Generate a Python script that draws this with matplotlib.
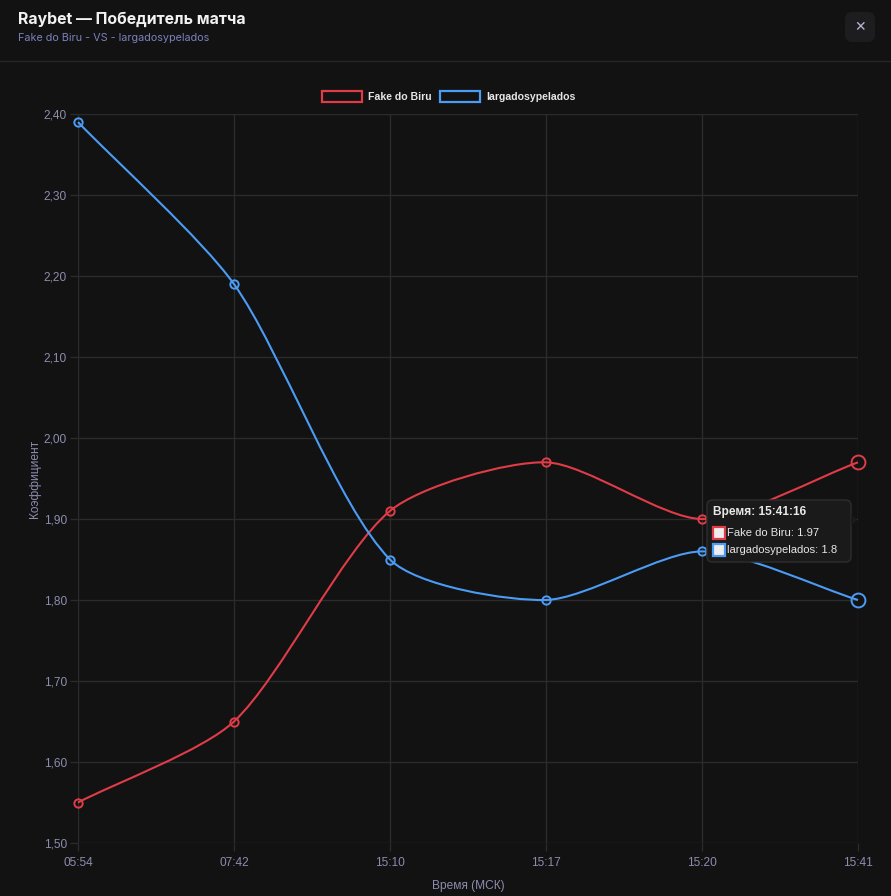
"""Raybet match-winner odds chart, dark modal style."""

import matplotlib.pyplot as plt
import numpy as np
from matplotlib.patches import FancyBboxPatch, PathPatch, Rectangle, Polygon
from matplotlib.path import Path
from matplotlib.lines import Line2D

TIMES = ["05:54", "07:42", "15:10", "15:17", "15:20", "15:41"]
FAKE = [1.55, 1.65, 1.91, 1.97, 1.90, 1.97]
LARGADOS = [2.39, 2.19, 1.85, 1.80, 1.86, 1.80]
Y_TICKS = [1.50, 1.60, 1.70, 1.80, 1.90, 2.00, 2.10, 2.20, 2.30, 2.40]

BG = "#121212"
GRID = "#2b2b2b"
TICK = "#8d8caf"
RED = "#e03c48"
BLUE = "#4a9cf5"

W, H = 891, 896
fig = plt.figure(figsize=(W / 100, H / 100), dpi=100, facecolor=BG)

# header
fig.text(18 / W, 1 - 19 / H, "Raybet — Победитель матча", family="Inter",
         fontsize=11.4, weight="bold", color="#f2f2f2", va="center")
fig.text(18 / W, 1 - 38 / H, "Fake do Biru - VS - largadosypelados", family="Inter",
         fontsize=7.8, color="#7b80bd", va="center")
fig.add_artist(Line2D([0, 1], [1 - 61.5 / H] * 2, color="#262626", lw=1))
fig.add_artist(FancyBboxPatch((845 / W, 1 - 42 / H), 30 / W, 30 / H,
                              boxstyle="round,pad=0,rounding_size=0.008",
                              fc="#1d1d1f", ec="none"))
fig.text(860 / W, 1 - 27 / H, "✕", fontsize=10, color="#b9b6d6",
         ha="center", va="center", family="DejaVu Sans")

ax = fig.add_axes([78 / W, 1 - 843 / H, 780 / W, 729 / H])
ax.set_facecolor(BG)
ax.set_xlim(0, len(TIMES) - 1)
ax.set_ylim(1.50, 2.40)
for s in ax.spines.values():
    s.set_visible(False)
ax.set_xticks(range(len(TIMES)))
ax.set_xticklabels(TIMES)
ax.set_yticks(Y_TICKS)
ax.set_yticklabels([f"{v:.2f}".replace(".", ",") for v in Y_TICKS])
ax.grid(True, color=GRID, lw=1)
ax.tick_params(colors=GRID, length=5.8, width=1, labelsize=8.6, labelcolor=TICK, pad=2.2)
ax.tick_params(axis="x", pad=4)
for lbl in ax.get_xticklabels() + ax.get_yticklabels():
    lbl.set_family("Liberation Sans")
ax.set_xlabel("Время (МСК)", family="Liberation Sans", fontsize=8.6, color=TICK, labelpad=8)
ax.set_ylabel("Коэффициент", family="Liberation Sans", fontsize=8.6, color=TICK, labelpad=2)

# pixel scale so spline control points are computed like Chart.js
sx, sy = 780 / (len(TIMES) - 1), 729 / 0.9


def spline_path(xs, ys, t=0.25):
    px = np.array(xs, float) * sx
    py = np.array(ys, float) * sy
    n = len(px)
    cin, cout = [], []
    for i in range(n):
        p0 = i - 1 if i > 0 else i
        p2 = i + 1 if i < n - 1 else i
        d01 = np.hypot(px[i] - px[p0], py[i] - py[p0])
        d12 = np.hypot(px[p2] - px[i], py[p2] - py[i])
        tot = d01 + d12
        s01 = d01 / tot if tot else 0
        s12 = d12 / tot if tot else 0
        dx, dy = px[p2] - px[p0], py[p2] - py[p0]
        cin.append((px[i] - t * s01 * dx, py[i] - t * s01 * dy))
        cout.append((px[i] + t * s12 * dx, py[i] + t * s12 * dy))
    verts = [(px[0] / sx, py[0] / sy)]
    codes = [Path.MOVETO]
    for i in range(n - 1):
        c1 = cout[i]
        c2 = cin[i + 1]
        verts += [(c1[0] / sx, c1[1] / sy), (c2[0] / sx, c2[1] / sy),
                  (px[i + 1] / sx, py[i + 1] / sy)]
        codes += [Path.CURVE4] * 3
    return Path(verts, codes)


xs = np.arange(len(TIMES))
for vals, col in [(FAKE, RED), (LARGADOS, BLUE)]:
    ax.add_patch(PathPatch(spline_path(xs, vals), fc="none", ec=col, lw=1.5,
                           clip_on=False, zorder=3))
    ax.plot(xs[:-1], vals[:-1], ls="none", marker="o", ms=6, mfc="none",
            mec=col, mew=1.4, clip_on=False, zorder=4)
    ax.plot(xs[-1:], vals[-1:], ls="none", marker="o", ms=10, mfc="none",
            mec=col, mew=1.4, clip_on=False, zorder=4)

# legend
for x0, col, name in [(322, RED, "Fake do Biru"), (440, BLUE, "largadosypelados")]:
    fig.add_artist(Rectangle((x0 / W, 1 - 102 / H), 40 / W, 11 / H,
                             fc="none", ec=col, lw=1.6))
    fig.text((x0 + 46) / W, 1 - 97 / H, name, family="Liberation Sans",
             fontsize=7.6, weight="bold", color="#e6e6e6", va="center")

# tooltip
tx0, ty0, tw, th = 707, 500, 144, 62
fig.add_artist(FancyBboxPatch((tx0 / W, 1 - (ty0 + th) / H), tw / W, th / H,
                              boxstyle="round,pad=0,rounding_size=0.006",
                              fc="#1a1a1b", ec="#2e2e30", lw=1, zorder=10))
fig.add_artist(Polygon([((tx0 + tw) / W, 1 - 514 / H), ((tx0 + tw + 6) / W, 1 - 520 / H),
                        ((tx0 + tw) / W, 1 - 526 / H)], closed=True,
                       fc="#1a1a1b", ec="none", zorder=10))
fig.text((tx0 + 6) / W, 1 - (ty0 + 12) / H, "Время: 15:41:16", family="Liberation Sans",
         fontsize=8.6, weight="bold", color="#e8e8e8", va="center", zorder=11)
for k, (col, txt) in enumerate([(RED, "Fake do Biru: 1.97"), (BLUE, "largadosypelados: 1.8")]):
    yy = ty0 + 33 + k * 17
    fig.add_artist(Rectangle(((tx0 + 6) / W, 1 - (yy + 6) / H), 12 / W, 12 / H,
                             fc="#eeeeee", ec=col, lw=1.6, zorder=11))
    fig.text((tx0 + 20) / W, 1 - yy / H, txt, family="Liberation Sans",
             fontsize=8.1, color="#e6e6e6", va="center", zorder=11)

fig.savefig("out.png", dpi=100, facecolor=BG)
